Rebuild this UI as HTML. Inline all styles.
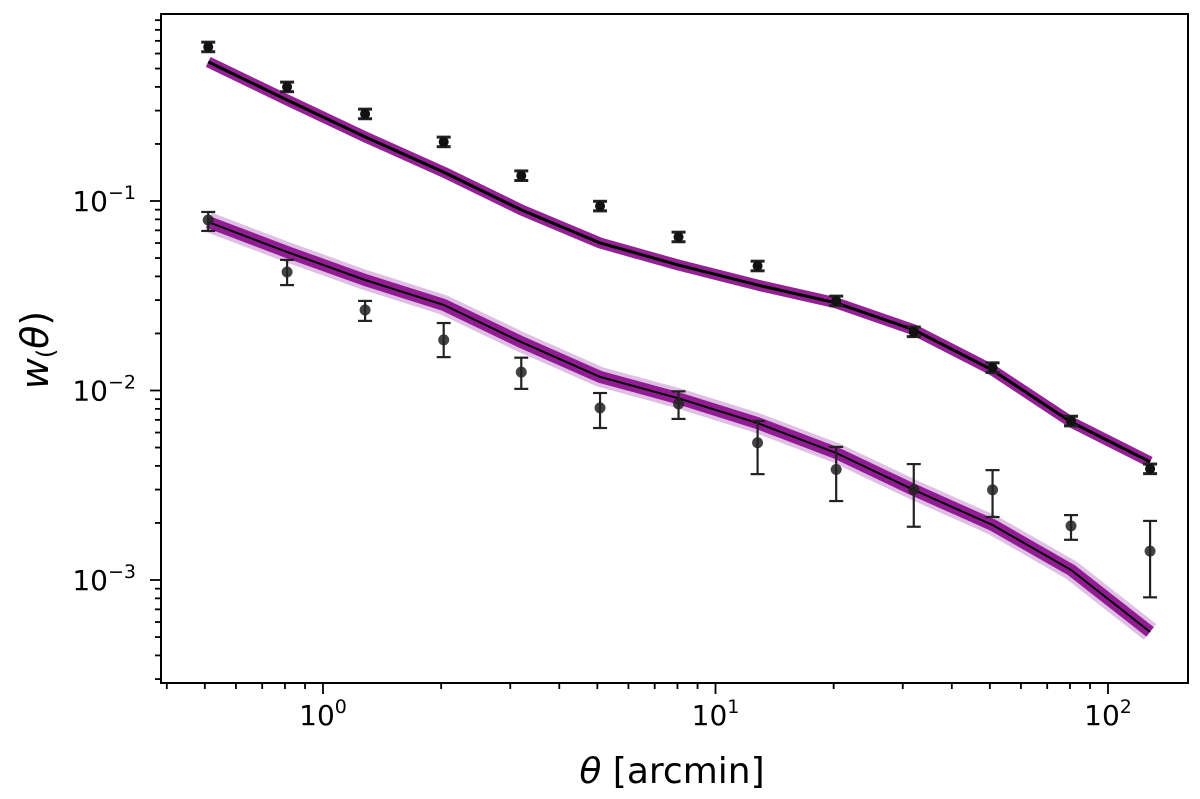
<!DOCTYPE html>
<html><head><meta charset="utf-8"><style>
body{margin:0;background:#fff}
svg text{font-family:"DejaVu Sans","Liberation Sans",sans-serif;fill:#000}
</style></head><body>
<svg id="c" width="1200" height="794" xmlns="http://www.w3.org/2000/svg"></svg>
<script>
const theta=[0.51,0.81,1.28,2.03,3.2,5.08,8.05,12.8,20.3,32,50.8,80.5,128];
const upperData=[0.65,0.40,0.288,0.205,0.136,0.094,0.0646,0.0454,0.0297,0.0204,0.0132,0.0069,0.00386];
const upperModel=[0.542,0.341,0.218,0.142,0.0897,0.06,0.0459,0.036,0.029,0.0209,0.0128,0.00682,0.0042];
const lowerData=[0.0794,0.0422,0.0266,0.0185,0.0125,0.0081,0.0085,0.0053,0.00383,0.0030,0.00299,0.00193,0.00142];
const lowerHi=[0.0875,0.0489,0.0297,0.0227,0.0149,0.0097,0.0099,0.0069,0.00504,0.00409,0.0038,0.0022,0.00205];
const lowerLo=[0.0695,0.036,0.0233,0.015,0.0102,0.00634,0.00708,0.00362,0.00261,0.00191,0.00215,0.00163,0.00081];
const lowerModel=[0.0775,0.0538,0.0383,0.0283,0.018,0.0118,0.0091,0.00673,0.00468,0.00299,0.00195,0.00113,0.000532];
const xTickLabels=["0","1","2"];
const yTickLabels=["-1","-2","-3"];

const NS="http://www.w3.org/2000/svg";
const svg=document.getElementById('c');
const L=161,R=1188,T=14,B=683;
const X=v=>323+392.5*Math.log10(v);
const Y=v=>201-189.5*(Math.log10(v)+1);
function el(tag,attrs,parent){const e=document.createElementNS(NS,tag);for(const k in attrs)e.setAttribute(k,attrs[k]);(parent||svg).appendChild(e);return e;}
function pts(xs,ys){return xs.map((t,i)=>X(t).toFixed(1)+','+Y(ys[i]).toFixed(1)).join(' ');}

const b1=el('polyline',{points:pts(theta,upperModel),fill:'none',stroke:'#8a0a8a',opacity:'0.9','stroke-width':'11','stroke-linejoin':'round'});


const b2a=el('polyline',{points:pts(theta,lowerModel),fill:'none',stroke:'#c080c8',opacity:'0.5','stroke-width':'20','stroke-linejoin':'round'});


const b2=el('polyline',{points:pts(theta,lowerModel),fill:'none',stroke:'#8a0a8a',opacity:'0.9','stroke-width':'12','stroke-linejoin':'round'});


const m1=el('polyline',{points:pts(theta,upperModel),fill:'none',stroke:'#000','stroke-width':'3'});


const m2=el('polyline',{points:pts(theta,lowerModel),fill:'none',stroke:'#000','stroke-width':'2'});



function errbar(x,y1,y2,name,w){
  const g=el('g',{stroke:'#222','stroke-width':w});
  
  
  el('line',{x1:x,x2:x,y1:y1,y2:y2},g);
  el('line',{x1:x-7,x2:x+7,y1:y1,y2:y1},g);
  el('line',{x1:x-7,x2:x+7,y1:y2,y2:y2},g);
}
theta.forEach((t,i)=>{
  errbar(X(t),Y(upperData[i]*1.06),Y(upperData[i]/1.06),'upper-errorbar','3');
  const c=el('circle',{cx:X(t),cy:Y(upperData[i]),r:5,fill:'#111'});
  
  
  errbar(X(t),Y(lowerHi[i]),Y(lowerLo[i]),'lower-errorbar','2.2');
  const d=el('circle',{cx:X(t),cy:Y(lowerData[i]),r:5.5,fill:'#222',opacity:'0.85'});
  
  
});

const fr=el('rect',{x:L,y:T,width:R-L,height:B-T,fill:'none',stroke:'#000','stroke-width':'2'});



for(let e=-1;e<=2;e++)for(let m=1;m<10;m++){
  const v=m*Math.pow(10,e);const x=X(v);if(x<L||x>R)continue;
  el('line',{x1:x,x2:x,y1:B,y2:B+(m==1?11:6),stroke:'#000','stroke-width':'1.8'});
}
for(let e=-4;e<=0;e++)for(let m=1;m<10;m++){
  const v=m*Math.pow(10,e);const y=Y(v);if(y<T||y>B)continue;
  el('line',{x1:L,x2:L-(m==1?11:6),y1:y,y2:y,stroke:'#000','stroke-width':'1.8'});
}
xTickLabels.forEach((s,i)=>{
  const t=el('text',{x:X(Math.pow(10,+s)),y:725,'font-size':'28','text-anchor':'middle'});
  
  
  t.innerHTML='10<tspan dy="-12" font-size="19">'+s+'</tspan>';
});
yTickLabels.forEach((s,i)=>{
  const t=el('text',{x:136,y:Y(Math.pow(10,+s))+10,'font-size':'28','text-anchor':'end'});
  
  
  t.innerHTML='10<tspan dy="-12" font-size="19">\u2212'+s.slice(1)+'</tspan>';
});
const xl=el('text',{x:672,y:783,'font-size':'36','text-anchor':'middle'});


xl.innerHTML='<tspan font-style="italic">θ</tspan> [arcmin]';
const yl=el('text',{x:0,y:0,'font-size':'38','text-anchor':'middle',transform:'translate(48,350) rotate(-90)'});


yl.innerHTML='<tspan font-style="italic">w</tspan><tspan font-size="24" dy="6">(</tspan><tspan dy="-6" font-style="italic">θ</tspan>)';
</script>
</body></html>
